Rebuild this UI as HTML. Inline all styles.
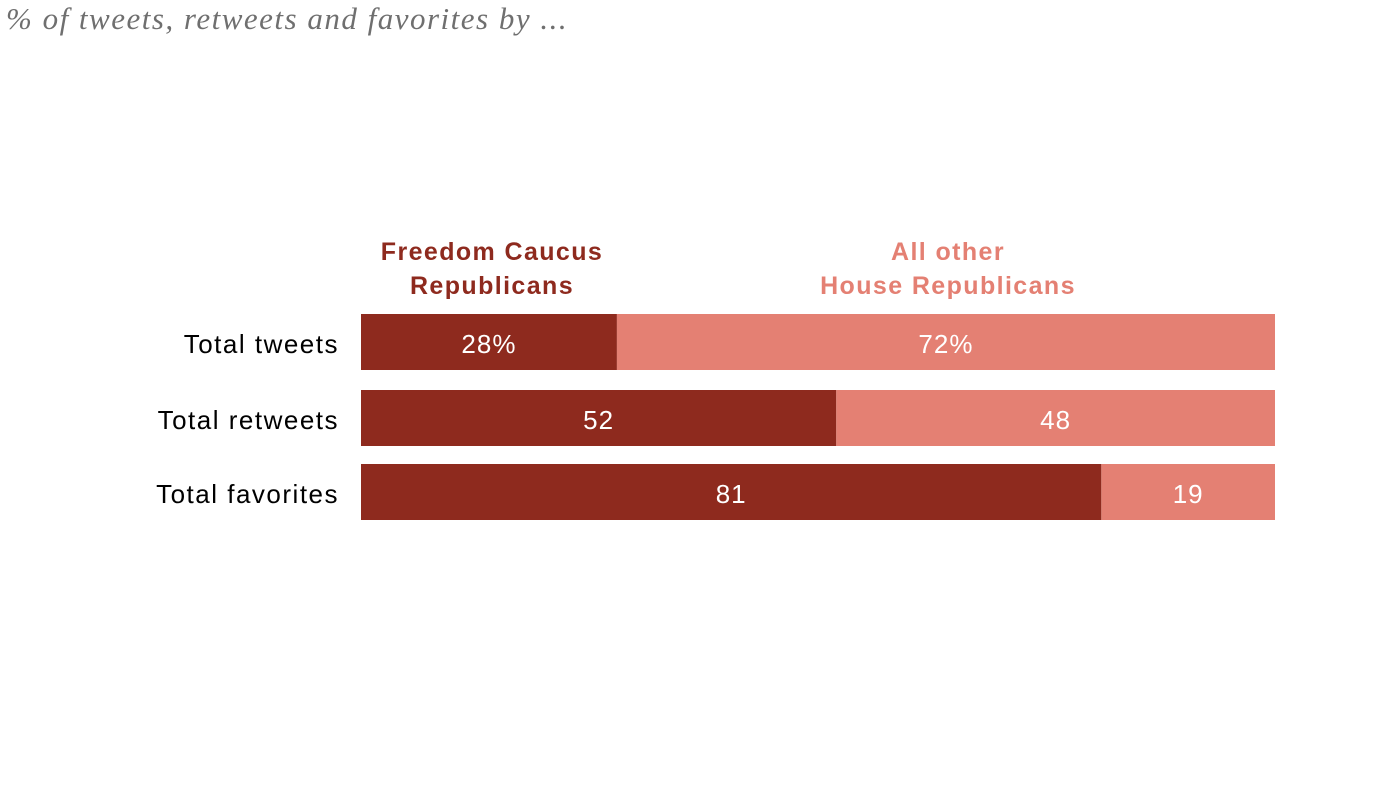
<!DOCTYPE html>
<html><head><meta charset="utf-8"><style>
body{margin:0;width:1400px;height:789px;background:#fff;overflow:hidden;font-family:"Liberation Sans",sans-serif}
#title{position:absolute;left:6px;top:1px;font-family:"Liberation Serif",serif;font-style:italic;font-size:31px;letter-spacing:1.5px;color:#6f6f6f;white-space:nowrap}
</style></head><body>
<div id="title">% of tweets, retweets and favorites by ...</div>
<svg id="chart" width="1400" height="789" style="position:absolute;left:0;top:0">
<text x="492" y="260" text-anchor="middle" font-size="25" font-weight="bold" letter-spacing="1.4" fill="#8e2a1e"><tspan x="492">Freedom Caucus</tspan><tspan x="492" dy="34">Republicans</tspan></text>
<text x="948" y="260" text-anchor="middle" font-size="25" font-weight="bold" letter-spacing="1.4" fill="#e48073"><tspan x="948">All other</tspan><tspan x="948" dy="34">House Republicans</tspan></text>
<g id="bars"></g>
</svg>
<script>
const categories=["Total tweets","Total retweets","Total favorites"];
const freedomValues=[28,52,81];
const otherValues=[72,48,19];
const valueLabels=[["28%","72%"],["52","48"],["81","19"]];
const x0=361,x1=1275;
const rowTops=[314,390,464];
const barH=56;
function xs(v){return x0+v/100*(x1-x0);}
const g=document.getElementById('bars');
const NS="http://www.w3.org/2000/svg";
categories.forEach((c,i)=>{
  const y=rowTops[i];
  const t=document.createElementNS(NS,'text');
  
  
  t.setAttribute('x',339);t.setAttribute('y',y+barH/2+11);t.setAttribute('text-anchor','end');
  t.setAttribute('letter-spacing','1.5');
  t.setAttribute('font-size','26');t.setAttribute('fill','#000');t.textContent=c;g.appendChild(t);
  const segs=[[0,freedomValues[i],'#8e2a1e'],[freedomValues[i],freedomValues[i]+otherValues[i],'#e48073']];
  segs.forEach((s,j)=>{
    const r=document.createElementNS(NS,'rect');
    
    
    r.setAttribute('x',xs(s[0]));r.setAttribute('y',y);r.setAttribute('width',xs(s[1])-xs(s[0]));r.setAttribute('height',barH);r.setAttribute('fill',s[2]);
    g.appendChild(r);
    const l=document.createElementNS(NS,'text');
    
    
    l.setAttribute('x',(xs(s[0])+xs(s[1]))/2);l.setAttribute('y',y+barH/2+11);l.setAttribute('text-anchor','middle');
    l.setAttribute('letter-spacing','1');
    l.setAttribute('font-size','26');l.setAttribute('fill','#fff');l.textContent=valueLabels[i][j];g.appendChild(l);
  });
});
</script>
</body></html>
